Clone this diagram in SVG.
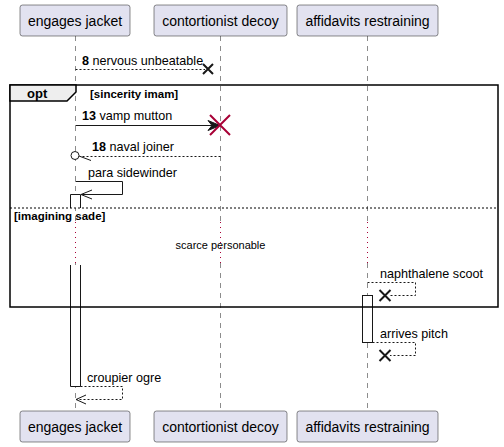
<svg xmlns="http://www.w3.org/2000/svg" width="504" height="447" viewBox="0 0 504 447">
<defs>
<style>
.pbox{fill:#E2E2F0;stroke:#181818;stroke-width:0.5}
.ptxt{font-family:"Liberation Sans",Arial,sans-serif;font-size:14px;fill:#000;text-anchor:middle}
.life{stroke:#181818;stroke-width:0.5;stroke-dasharray:5,5;fill:none}
.delay{stroke:#A80036;stroke-width:1;stroke-dasharray:1,4;fill:none}
.msg{font-family:"Liberation Sans",Arial,sans-serif;font-size:12.6px;fill:#000}
.num{font-weight:bold}
.solid{stroke:#181818;stroke-width:1;fill:none}
.dash{stroke:#181818;stroke-width:1;stroke-dasharray:2,2;fill:none}
.act{fill:#FFFFFF;stroke:#181818;stroke-width:1}
.xk{stroke:#181818;stroke-width:2;fill:none}
.frame{stroke:#000;stroke-width:1.5;fill:none}
.bold{font-family:"Liberation Sans",Arial,sans-serif;font-weight:bold;fill:#000}
</style>
</defs>
<rect width="504" height="447" fill="#FFFFFF"/>
<g id="lifelines">
<path class="life" d="M75.5,36 V222 M75.5,263 V411"/>
<path class="life" d="M220.5,36 V222 M220.5,263 V411"/>
<path class="life" d="M367.5,36 V222 M367.5,263 V411"/>
<path class="delay" d="M75.5,222 V263 M220.5,222 V263 M367.5,222 V263"/>
</g>
<g id="activations">
<path class="act" d="M70.5,208 V194.5 H80.5 V208"/>
<path class="act" d="M70.5,265 V386.5 H80.5 V265"/>
<rect class="act" x="362.5" y="295.5" width="10" height="47"/>
</g>
<g id="frame">
<rect class="frame" x="10" y="85" width="488" height="222"/>
<path d="M10,85 H76 V92 L67,101 H10 Z" fill="#EEEEEE" stroke="#000" stroke-width="1.5"/>
<text class="bold" x="27" y="98" font-size="13">opt</text>
<text class="bold" x="90" y="98" font-size="11.5">[sincerity imam]</text>
<line x1="10" y1="208" x2="498" y2="208" stroke="#000" stroke-width="1" stroke-dasharray="2,2"/>
<text class="bold" x="14" y="220" font-size="11.5">[imagining sade]</text>
<text x="220.5" y="249" font-family="Liberation Sans,Arial,sans-serif" font-size="11px" text-anchor="middle">scarce personable</text>
</g>
<g id="p1"><rect class="pbox" x="20" y="5" width="110" height="31" rx="2.5"/><text class="ptxt" x="75" y="26">engages jacket</text></g>
<g id="p2"><rect class="pbox" x="154" y="5" width="133" height="31" rx="2.5"/><text class="ptxt" x="220.5" y="26">contortionist decoy</text></g>
<g id="p3"><rect class="pbox" x="297" y="5" width="141" height="31" rx="2.5"/><text class="ptxt" x="367.5" y="26">affidavits restraining</text></g>
<g id="p1b"><rect class="pbox" x="20" y="411" width="110" height="31" rx="2.5"/><text class="ptxt" x="75" y="432">engages jacket</text></g>
<g id="p2b"><rect class="pbox" x="154" y="411" width="133" height="31" rx="2.5"/><text class="ptxt" x="220.5" y="432">contortionist decoy</text></g>
<g id="p3b"><rect class="pbox" x="297" y="411" width="141" height="31" rx="2.5"/><text class="ptxt" x="367.5" y="432">affidavits restraining</text></g>
<g id="connectors">
<line class="dash" x1="75.5" y1="69.5" x2="205" y2="69.5"/>
<path class="xk" d="M203,64 L213,74 M213,64 L203,74"/>
<text class="msg" x="82" y="65"><tspan class="num">8</tspan> nervous unbeatable</text>

<line class="solid" x1="75.5" y1="125.5" x2="215" y2="125.5"/>
<polygon points="220,125.5 208,120.5 212,125.5 208,130.5" fill="#181818" stroke="#181818" stroke-width="1"/>
<path d="M210,115 L230,135 M230,115 L210,135" stroke="#A80036" stroke-width="2" fill="none"/>
<text class="msg" x="82" y="120"><tspan class="num">13</tspan> vamp mutton</text>

<line class="dash" x1="220.5" y1="156.5" x2="80" y2="156.5"/>
<circle cx="75" cy="155.5" r="4" fill="#FFFFFF" stroke="#181818" stroke-width="1"/>
<line class="solid" x1="79" y1="156" x2="91" y2="160.5"/>
<text class="msg" x="92" y="151"><tspan class="num">18</tspan> naval joiner</text>

<path class="solid" d="M75.5,181.5 H122.5 V194.5 H81"/>
<path class="solid" d="M92,190 L81,194.5 L92,199"/>
<text class="msg" x="88" y="177">para sidewinder</text>

<path class="dash" d="M367.5,282.5 H415.5 V295.5 H390"/>
<path class="xk" d="M379.5,290 L390.5,301 M390.5,290 L379.5,301"/>
<text class="msg" x="380" y="278">naphthalene scoot</text>

<path class="dash" d="M372.5,342.5 H415.5 V355.5 H390"/>
<path class="xk" d="M379.5,350 L390.5,361 M379.5,361 L390.5,350"/>
<text class="msg" x="380" y="338">arrives pitch</text>

<path class="dash" d="M80.5,386.5 H122.5 V399.5 H76"/>
<path class="solid" d="M86,395 L76,399.5 L86,404"/>
<text class="msg" x="87" y="382">croupier ogre</text>
</g>
</svg>
